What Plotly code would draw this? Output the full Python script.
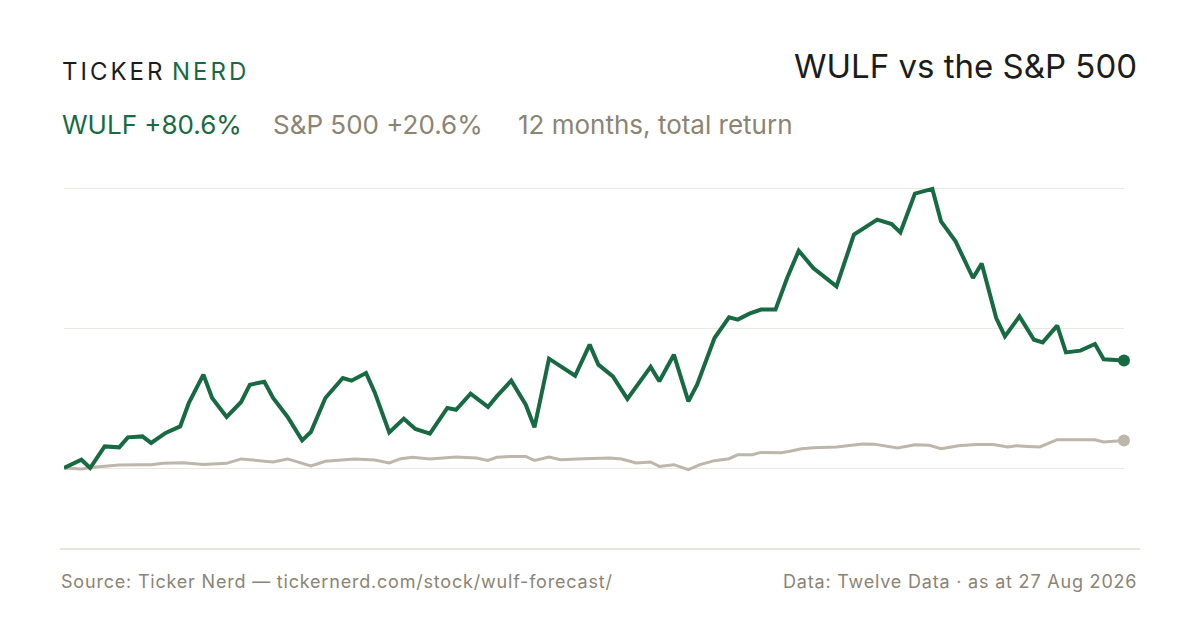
import pandas as pd
import plotly.graph_objects as go

# 12-month total return, % (days after 27 Aug 2025)
wulf_day = [0, 6, 9, 14, 19, 22, 27, 30, 35, 40, 43, 48, 51, 56, 61, 64, 69, 72, 77, 82,
            85, 90, 96, 99, 104, 107, 112, 117, 121, 126, 132, 135, 140, 146, 149, 154, 159, 162, 167, 176,
            181, 184, 189, 194, 202, 205, 210, 215, 218, 224, 229, 232, 236, 240, 245, 249, 253, 258, 266, 272,
            280, 285, 288, 293, 299, 302, 307, 313, 316, 321, 324, 329, 334, 337, 342, 345, 350, 355, 358, 365]
wulf_ret = [0, 6.2, 0, 16.2, 15.5, 23.0, 23.7, 18.8, 26.3, 31.2, 48.8, 70.0, 52.5, 38.3, 49.5, 62.5, 64.7, 52.5, 38.3, 20.7,
            27.0, 52.5, 67.5, 65.5, 71.3, 56.7, 26.7, 37.0, 29.3, 25.7, 45.0, 43.7, 55.7, 45.8, 53.7, 65.5, 47.5, 30.5, 82.0, 69.2,
            92.5, 77.5, 68.7, 51.8, 75.8, 65.0, 85.0, 50.0, 62.5, 97.5, 113.0, 111.3, 115.8, 118.8, 118.8, 142.5, 163.0, 150.0, 136.2, 175.0,
            186.3, 183.0, 176.7, 205.8, 209.3, 185.0, 170.0, 142.5, 153.3, 112.5, 98.7, 113.7, 96.2, 94.2, 106.8, 86.7, 88.0, 93.0, 81.5, 80.6]

spx_day = [0, 6, 10, 14, 19, 26, 30, 34, 41, 48, 56, 61, 68, 72, 77, 85, 90, 95, 100, 107,
           112, 116, 120, 126, 135, 142, 146, 149, 154, 159, 162, 167, 171, 179, 188, 192, 197, 202, 205, 210,
           215, 219, 224, 229, 232, 237, 240, 247, 250, 254, 258, 266, 270, 275, 279, 287, 293, 298, 302, 308,
           314, 320, 325, 328, 332, 336, 342, 347, 355, 358, 365]
spx_ret = [0, -0.8, 0.5, 1.2, 2.3, 2.5, 2.5, 3.5, 4.0, 2.7, 3.5, 6.8, 5.5, 4.5, 6.8, 1.5, 5.0, 5.7, 6.8, 6.0,
           3.8, 7.0, 8.0, 6.8, 8.3, 7.5, 5.7, 8.0, 8.7, 8.7, 5.7, 8.3, 6.2, 7.0, 7.5, 6.8, 3.8, 4.5, 1.2, 2.5,
           -1.3, 2.5, 5.5, 7.0, 10.0, 10.0, 11.7, 11.5, 12.5, 14.5, 15.2, 15.8, 16.7, 18.0, 17.9, 15.0, 17.5, 17.0, 14.5, 16.7,
           17.7, 17.7, 15.8, 16.7, 16.2, 15.8, 21.2, 21.2, 21.2, 19.5, 20.6]

start = pd.Timestamp("2025-08-27")
end = pd.Timestamp("2026-08-27")
wulf_x = start + pd.to_timedelta(wulf_day, unit="D")
spx_x = start + pd.to_timedelta(spx_day, unit="D")

green = "#176a42"
stone = "#bcb6ab"
muted = "#8a8474"
ink = "#1c1c1c"
font = "Inter, Roboto, sans-serif"

# the page body adds an 8px offset, so work in page pixels and shift
W, H, OFF = 1200, 630, 8
L, T = 64 - OFF, 168 - OFF
pw, ph = 1060, 380
R, B = W - L - pw, H - T - ph


def px(x):
    return (x - OFF - L) / pw


def py(y):
    return (H - B - (y - OFF)) / ph


def spaced(s, ls):
    return "<span style='letter-spacing:%spx'>%s</span>" % (ls, s)


fig = go.Figure()
fig.add_trace(go.Scatter(
    x=spx_x, y=spx_ret, mode="lines",
    line=dict(color=stone, width=3), hoverinfo="skip", showlegend=False,
))
fig.add_trace(go.Scatter(
    x=wulf_x, y=wulf_ret, mode="lines",
    line=dict(color=green, width=4), hoverinfo="skip", showlegend=False,
))
fig.add_trace(go.Scatter(
    x=[spx_x[-1]], y=[spx_ret[-1]], mode="markers",
    marker=dict(color=stone, size=12), cliponaxis=False,
    hoverinfo="skip", showlegend=False,
))
fig.add_trace(go.Scatter(
    x=[wulf_x[-1]], y=[wulf_ret[-1]], mode="markers",
    marker=dict(color=green, size=12), cliponaxis=False,
    hoverinfo="skip", showlegend=False,
))

peak = max(wulf_ret)
annotations = [
    dict(x=px(60), y=py(71), text=spaced("TICKER", 3),
         xanchor="left", yanchor="middle", font=dict(size=24, color=ink, family=font)),
    dict(x=px(170), y=py(71), text=spaced("NERD", 3),
         xanchor="left", yanchor="middle", font=dict(size=24, color=green, family=font)),
    dict(x=px(1139), y=py(66), text="WULF vs the S&P 500",
         xanchor="right", yanchor="middle", font=dict(size=33, color=ink, family=font)),
    dict(x=px(60), y=py(124), text="WULF +80.6%",
         xanchor="left", yanchor="middle", font=dict(size=26, color=green, family=font)),
    dict(x=px(271), y=py(124), text="S&P 500 +20.6%",
         xanchor="left", yanchor="middle", font=dict(size=26, color=muted, family=font)),
    dict(x=px(516), y=py(124), text="12 months, total return",
         xanchor="left", yanchor="middle", font=dict(size=26, color=muted, family=font)),
    dict(x=px(59), y=py(581), text=spaced("Source: Ticker Nerd — tickernerd.com/stock/wulf-forecast/", 0.8),
         xanchor="left", yanchor="middle", font=dict(size=18, color=muted, family=font)),
    dict(x=px(1139), y=py(581), text=spaced("Data: Twelve Data · as at 27 Aug 2026", 0.8),
         xanchor="right", yanchor="middle", font=dict(size=18, color=muted, family=font)),
]
for a in annotations:
    a.update(xref="paper", yref="paper", showarrow=False)

fig.update_layout(
    width=W, height=H,
    margin=dict(l=L, r=R, t=T, b=B),
    paper_bgcolor="white", plot_bgcolor="white",
    xaxis=dict(range=[start, end], showgrid=False, zeroline=False,
               showticklabels=False, ticks="", showline=False),
    yaxis=dict(range=[-60, 225], tickvals=[0, peak / 2, peak], showticklabels=False,
               showgrid=True, gridcolor="#ebe8e2", gridwidth=1.2,
               zeroline=False, ticks="", showline=False),
    shapes=[dict(type="line", xref="paper", yref="paper",
                 x0=px(60), x1=px(1140), y0=py(549), y1=py(549),
                 line=dict(color="#dfdbd1", width=1.5))],
    annotations=annotations,
    showlegend=False,
)

fig.write_html("out.html", config={"displayModeBar": False})
